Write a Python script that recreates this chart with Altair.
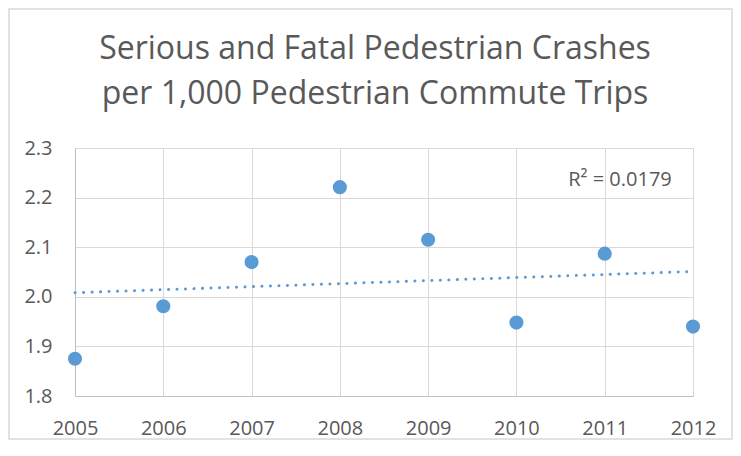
import altair as alt
import pandas as pd

years = [2005, 2006, 2007, 2008, 2009, 2010, 2011, 2012]
rates = [1.875, 1.981, 2.070, 2.221, 2.115, 1.948, 2.087, 1.940]
r2_label = ["R² = 0.0179"]
title_lines = ["Serious and Fatal Pedestrian Crashes", "per 1,000 Pedestrian Commute Trips"]

df = pd.DataFrame({"year": years, "rate": rates})

GRID = "#d9d9d9"
TXT = "#595959"
BLUE = "#5b9bd5"
FONT = "Open Sans"

x = alt.X("year:Q", scale=alt.Scale(domain=[2005, 2012], nice=False, zero=False),
          axis=alt.Axis(values=years, format="d", title=None, ticks=False,
                        labelFontSize=20, labelColor=TXT, labelFont=FONT, labelPadding=22,
                        grid=True, gridColor=GRID, domainColor="#bfbfbf",
                        labelFlush=False))
y = alt.Y("rate:Q", scale=alt.Scale(domain=[1.8, 2.3], nice=False, zero=False),
          axis=alt.Axis(values=[1.8, 1.9, 2.0, 2.1, 2.2, 2.3], format=".1f", title=None,
                        ticks=False, labelFontSize=20, labelColor=TXT, labelFont=FONT,
                        labelPadding=23, grid=True, gridColor=GRID, domainColor="#bfbfbf"))

base = alt.Chart(df)

trend = base.transform_regression("year", "rate", extent=[2005, 2012]).mark_line(
    color=BLUE, strokeWidth=3, strokeDash=[0.1, 8.4], strokeCap="round", clip=False
).encode(x=x, y=y)

pts = base.mark_circle(size=200, color=BLUE, opacity=1).encode(x=x, y=y)

r2 = alt.Chart(pd.DataFrame({"t": r2_label})).mark_text(
    font=FONT, fontSize=20, color=TXT, align="center", baseline="middle"
).encode(text="t:N", x=alt.value(545), y=alt.value(32))

frame = alt.Chart(pd.DataFrame({"t": [0]})).mark_rect(
    fill=None, stroke=GRID, strokeWidth=1.5
).encode(x=alt.value(-66), x2=alt.value(657), y=alt.value(-139), y2=alt.value(291))

def title_line(i, ypix):
    return alt.Chart(pd.DataFrame({"t": [title_lines[i]]})).mark_text(
        font=FONT, fontSize=32, color=TXT, align="center", baseline="alphabetic"
    ).encode(text="t:N", x=alt.value(300), y=alt.value(ypix))

chart = alt.layer(frame, title_line(0, -89), title_line(1, -44), trend, pts, r2).properties(
    width=618, height=248,
    padding={"left": 67, "top": 140, "right": 40, "bottom": 52},
    autosize=alt.AutoSizeParams(type="none"),
).configure_view(stroke=GRID).configure(background="white")

chart.save("out.html", embed_options={"renderer": "svg", "actions": False})
